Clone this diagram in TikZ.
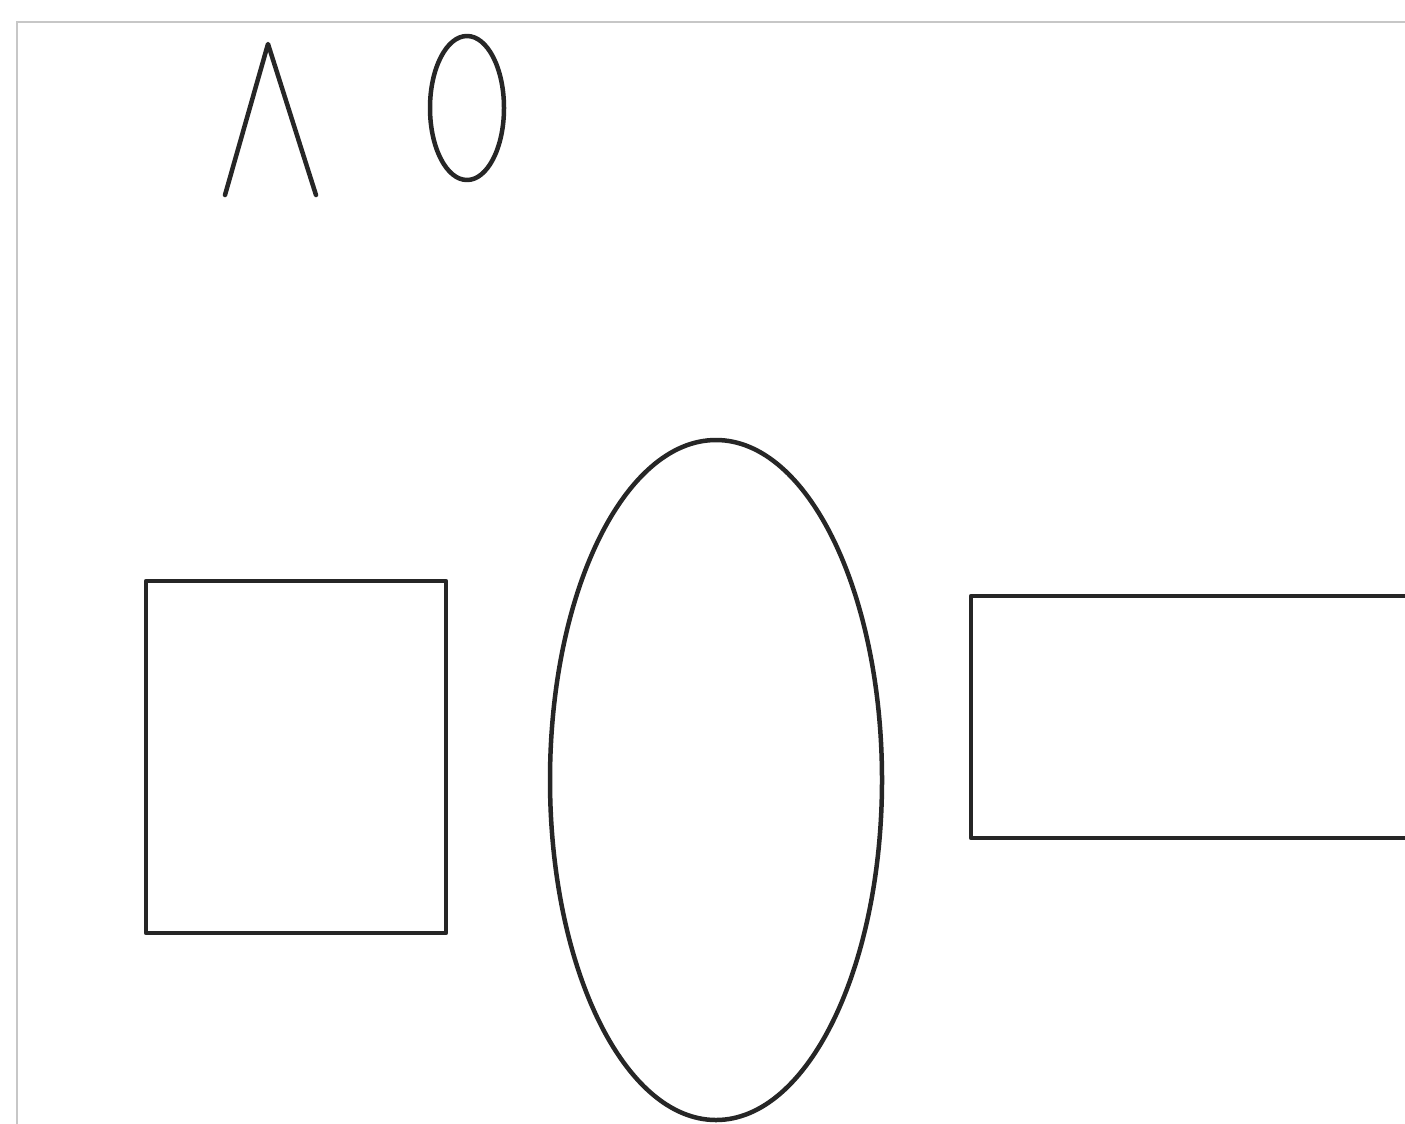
\documentclass[tikz,border=0pt]{standalone}
\begin{document}
\begin{tikzpicture}[x=0.02cm,y=-0.02cm,
  shapeline/.style={draw=black!85,line width=0.09cm,line join=round,line cap=round},
  frameline/.style={draw=black!22,line width=0.03cm}]
\useasboundingbox (0,0) rectangle (1405,1123);
\clip (0,0) rectangle (1405,1123);
\fill[white] (0,0) rectangle (1405,1123);
% frame
\draw[frameline] (17,1130) -- (17,22) -- (1410,22);
% lambda
\draw[shapeline] (225,195) -- (268,44) -- (316,195);
% small ellipse
\draw[shapeline] (467,108) ellipse [x radius=37, y radius=72];
% square
\draw[shapeline] (146,581) rectangle (446,933);
% big ellipse
\draw[shapeline] (716,780) ellipse [x radius=166, y radius=340];
% open rectangle
\draw[shapeline] (1420,596) -- (971,596) -- (971,838) -- (1420,838);
\end{tikzpicture}
\end{document}
